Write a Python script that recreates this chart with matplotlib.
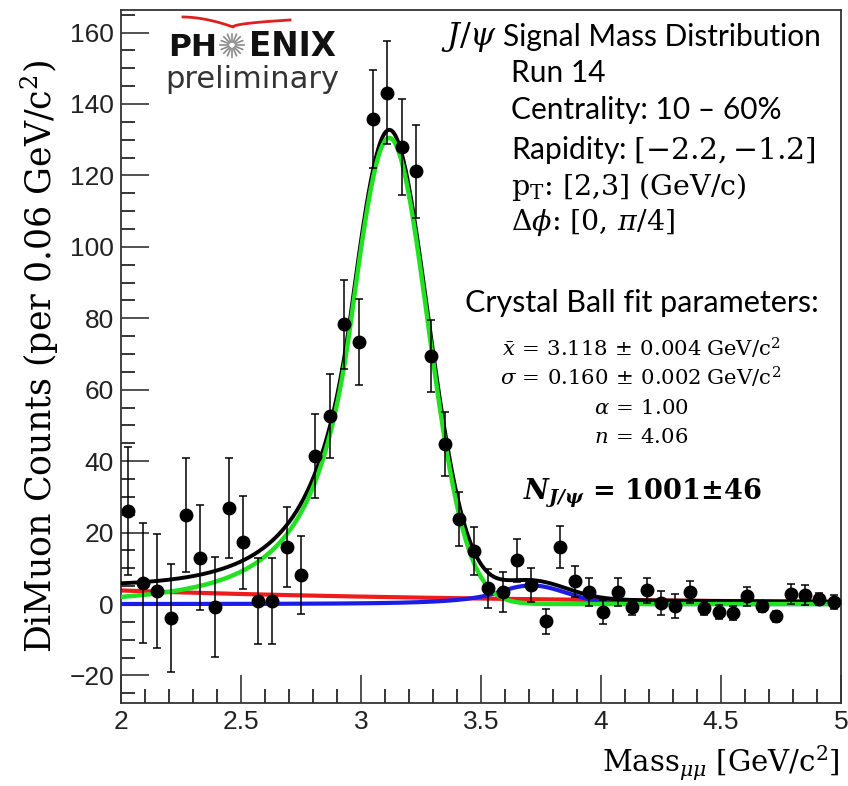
import numpy as np
import matplotlib
matplotlib.use("Agg")
import matplotlib.pyplot as plt
from matplotlib.ticker import MultipleLocator
from matplotlib.lines import Line2D

# ---------------- data ----------------
mass = [2.03, 2.09, 2.15, 2.21, 2.27, 2.33, 2.39, 2.45, 2.51, 2.57,
        2.63, 2.69, 2.75, 2.81, 2.87, 2.93, 2.99, 3.05, 3.11, 3.17,
        3.23, 3.29, 3.35, 3.41, 3.47, 3.53, 3.59, 3.65, 3.71, 3.77,
        3.83, 3.89, 3.95, 4.01, 4.07, 4.13, 4.19, 4.25, 4.31, 4.37,
        4.43, 4.49, 4.55, 4.61, 4.67, 4.73, 4.79, 4.85, 4.91, 4.97]
counts = [26.0, 5.9, 3.6, -3.9, 25.0, 12.9, -0.8, 26.8, 17.3, 0.8,
          0.8, 16.0, 8.1, 41.4, 52.6, 78.3, 73.3, 135.7, 143.2, 128.0,
          121.1, 69.4, 44.8, 23.8, 14.8, 4.4, 3.4, 12.3, 5.3, -4.8,
          16.0, 6.4, 3.4, -2.2, 3.4, -0.8, 3.9, 0.3, -0.6, 3.4,
          -1.1, -2.2, -2.5, 2.2, -0.6, -3.4, 2.8, 2.5, 1.4, 0.6]
errors = [18.0, 16.7, 16.0, 15.0, 16.0, 14.7, 14.0, 14.0, 13.0, 12.0,
          12.0, 11.3, 11.0, 11.7, 11.7, 12.5, 12.0, 13.7, 14.5, 13.4,
          13.0, 10.0, 9.0, 7.5, 6.7, 5.5, 5.7, 6.0, 4.7, 3.5,
          5.8, 4.3, 4.0, 3.4, 4.0, 2.2, 3.5, 3.3, 3.3, 3.0,
          2.0, 2.0, 2.0, 2.7, 1.5, 1.5, 2.8, 2.8, 1.7, 2.0]

jpsi_mean, jpsi_sigma, cb_alpha, cb_n = 3.118, 0.160, 1.00, 4.06
jpsi_amp = 130.5
psi2s_mean, psi2s_sigma, psi2s_amp = 3.71, 0.145, 5.2
bkg_amp, bkg_slope = 3.8, 0.60

x_ticks = [2, 2.5, 3, 3.5, 4, 4.5, 5]
x_ticklabels = ["2", "2.5", "3", "3.5", "4", "4.5", "5"]
y_ticks = [-20, 0, 20, 40, 60, 80, 100, 120, 140, 160]


def crystal_ball(x, amp, mu, sig, alpha, n):
    t = (x - mu) / sig
    A = (n / alpha) ** n * np.exp(-alpha ** 2 / 2)
    B = n / alpha - alpha
    out = np.where(t > -alpha, np.exp(-t ** 2 / 2),
                   A / np.abs(B - t) ** n)
    return amp * out


W, H = 848, 786
fig = plt.figure(figsize=(W / 100, H / 100), dpi=100)


def fx(px):
    return np.asarray(px) / W


def fy(py):
    return 1 - np.asarray(py) / H


ax = fig.add_axes([fx(121), fy(703), fx(841) - fx(121), fy(10) - fy(703)])

xs = np.linspace(2.0, 5.0, 600)
sig_curve = crystal_ball(xs, jpsi_amp, jpsi_mean, jpsi_sigma, cb_alpha, cb_n)
psi2s_curve = crystal_ball(xs, psi2s_amp, psi2s_mean, psi2s_sigma, cb_alpha, cb_n)
bkg_curve = bkg_amp * np.exp(-bkg_slope * (xs - 2.0))
total = sig_curve + psi2s_curve + bkg_curve

ax.plot(xs, bkg_curve, color="#ee1c1c", lw=3.0, zorder=2)
ax.plot(xs, psi2s_curve, color="#1c1ce8", lw=3.0, zorder=3)
ax.plot(xs, total, color="black", lw=2.8, zorder=4)
ax.plot(xs, sig_curve, color="#22e022", lw=3.2, zorder=5)

ax.errorbar(mass, counts, yerr=errors, fmt="o", color="black", ms=9,
            elinewidth=1.1, capsize=3, capthick=1.1, zorder=6)

ax.set_xlim(2.0, 5.0)
ax.set_ylim(-27.7, 166.3)
ax.set_xticks(x_ticks)
ax.set_xticklabels(x_ticklabels)
ax.set_yticks(y_ticks)
ax.xaxis.set_minor_locator(MultipleLocator(0.1))
ax.yaxis.set_minor_locator(MultipleLocator(5))
ax.tick_params(which="major", direction="in", length=20, width=1.1,
               top=False, right=False, labelsize=19, colors="#222222", pad=5)
ax.tick_params(which="minor", direction="in", length=10, width=1.1,
               top=False, right=False)
for lab in ax.get_xticklabels() + ax.get_yticklabels():
    lab.set_fontfamily("Liberation Sans")
for sp in ax.spines.values():
    sp.set_linewidth(1.3)
    sp.set_color("#333333")

serif = "DejaVu Serif"
mserif = "dejavuserif"
ax.set_ylabel(r"DiMuon Counts (per 0.06 GeV/c$^2$)", fontsize=25,
              fontfamily=serif, math_fontfamily=mserif, labelpad=6)
fig.text(fx(840), fy(763), r"Mass$_{\mu\mu}$ [GeV/c$^2$]", fontsize=21,
         fontfamily=serif, math_fontfamily=mserif,
         ha="right", va="center")

# ---------------- PHENIX logo ----------------
fig.text(fx(168), fy(47), "PH", fontsize=22.5, fontweight="bold",
         fontfamily="DejaVu Sans", ha="left", va="center", color="#111111")
fig.text(fx(249), fy(47), "ENIX", fontsize=23.5, fontweight="bold",
         fontfamily="DejaVu Sans", ha="left", va="center", color="#111111")
fig.text(fx(252), fy(79), "preliminary", fontsize=22,
         fontfamily="DejaVu Sans", ha="center", va="center", color="#333333")
cx, cy = 232, 45
for k in range(16):
    a = 2 * np.pi * k / 16
    fig.add_artist(Line2D(fx([cx + 3.5 * np.cos(a), cx + 11.5 * np.cos(a)]),
                          fy([cy + 3.5 * np.sin(a), cy + 11.5 * np.sin(a)]),
                          transform=fig.transFigure, color="#8a8a8a", lw=1.2))
# red wing arc
t = np.linspace(0, 1, 60)
lx = 183 + (233 - 183) * t
ly = 17 + 10 * t ** 1.8
rx = 233 + (290 - 233) * t
ry = 27 - 7 * np.sqrt(t)
fig.add_artist(Line2D(fx(np.concatenate([lx, rx])), fy(np.concatenate([ly, ry])),
                      transform=fig.transFigure, color="#e02020", lw=2.0))

# ---------------- info text ----------------
sans = "Lato"
fs = 21.5
fig.text(fx(497), fy(37), r"$J/\psi$", fontsize=23,
         math_fontfamily=mserif, ha="right", va="center")
fig.text(fx(503), fy(37), "Signal Mass Distribution", fontsize=fs,
         fontfamily=sans, ha="left", va="center")
fig.text(fx(511), fy(73), "Run 14", fontsize=fs, fontfamily=sans,
         ha="left", va="center")
fig.text(fx(511), fy(110), "Centrality: 10 \u2013 60%", fontsize=fs,
         fontfamily=sans, ha="left", va="center")
fig.text(fx(511), fy(150), r"Rapidity: $[{-}2.2, {-}1.2]$", fontsize=fs,
         fontfamily=sans, math_fontfamily=mserif, ha="left", va="center")
fig.text(fx(511), fy(187), r"$\mathrm{p_T}$: [2,3] (GeV/c)", fontsize=20.5,
         fontfamily=serif, math_fontfamily=mserif, ha="left", va="center")
fig.text(fx(511), fy(223), r"$\Delta\phi$: $[0,\,\pi/4]$", fontsize=20.5,
         fontfamily=serif, math_fontfamily=mserif, ha="left", va="center")

fig.text(fx(642), fy(303), "Crystal Ball fit parameters:", fontsize=22,
         fontfamily=sans, ha="center", va="center")
param_lines = [
    (348, r"$\bar{x}\,=\,3.118\,\pm\,0.004\;\mathrm{GeV/c^2}$"),
    (377, r"$\sigma\,=\,0.160\,\pm\,0.002\;\mathrm{GeV/c^2}$"),
    (408, r"$\alpha\,=\,1.00$"),
    (437, r"$n\,=\,4.06$"),
]
for yy, s in param_lines:
    fig.text(fx(641), fy(yy), s, fontsize=15.3, math_fontfamily=mserif,
             ha="center", va="center")
fig.text(fx(642), fy(493),
         r"$\mathbfit{N}_{\mathbfit{J/\psi}}\mathbf{\,=\,1001{\pm}46}$",
         fontsize=19.5, math_fontfamily=mserif, ha="center", va="center")

fig.savefig("out.png", dpi=100)
